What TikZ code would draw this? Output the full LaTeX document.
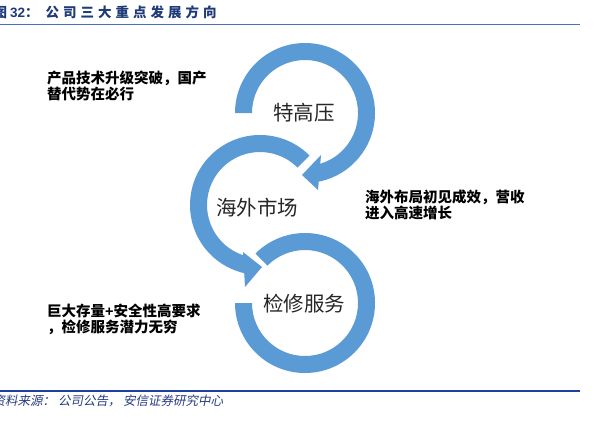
\documentclass[tikz,border=0pt]{standalone}
\usepackage{fontspec}
\setmainfont{Liberation Sans}
\newfontfamily\cjk{Noto Sans CJK SC}
\newfontfamily\cjkit{Noto Sans CJK SC}[FakeSlant=0.2]
\newfontfamily\latb{Liberation Sans}
\definecolor{ringblue}{RGB}{91,155,213}
\definecolor{titleblue}{RGB}{31,58,120}
\definecolor{toplineblue}{RGB}{72,112,190}
\definecolor{botlineblue}{RGB}{32,64,160}
\definecolor{srcblue}{RGB}{40,60,130}
\definecolor{labelgray}{RGB}{38,38,38}
\tikzset{
  ring/.style={fill=ringblue, draw=none},
  cirlabel/.style={inner sep=0pt, text=labelgray, font=\cjk\fontsize{20.5}{24}\selectfont},
  sidelabel/.style={inner sep=0pt, anchor=west, align=left, text=black, font=\cjk\bfseries\fontsize{14.5}{16}\selectfont},
}
\begin{document}
\begin{tikzpicture}[x=1pt,y=1pt]
\useasboundingbox (0,0) rectangle (601,-424);
\fill[white] (0,0) rectangle (601,-424);

% title
\node[anchor=west, inner sep=0pt, text=titleblue, font=\cjk\bfseries\fontsize{13.5}{15}\selectfont] (title) at (-6.5,-12.5)
  {图\hspace{3pt}{\latb\bfseries 32}：\hspace{7pt}公\hspace{4pt}司\hspace{4pt}三\hspace{4pt}大\hspace{4pt}重\hspace{4pt}点\hspace{4pt}发\hspace{4pt}展\hspace{4pt}方\hspace{4pt}向};
\draw[toplineblue, line width=1.5pt] (0,-24.7) -- (580,-24.7);

% circle centres
\coordinate (T) at (305,-113);
\coordinate (M) at (260,-205);
\coordinate (B) at (305,-303);

% top ring with arrow
\fill[ring] ([shift={(180:70)}]T) arc[start angle=180,end angle=-79,radius=70]
  -- ([shift={(-79:53)}]T) arc[start angle=-79,end angle=180,radius=53] -- cycle;
\fill[ring] (321,-155) -- (318,-190) -- (302,-175) -- cycle;

% middle ring with arrow
\fill[ring] ([shift={(45:70)}]M) arc[start angle=45,end angle=257.5,radius=70]
  -- ([shift={(257.5:53)}]M) arc[start angle=257.5,end angle=45,radius=53] -- cycle;
\fill[ring] (243,-252) -- (245,-287) -- (262,-267) -- cycle;

% bottom ring
\fill[ring] ([shift={(135:70)}]B) arc[start angle=135,end angle=-180,radius=70]
  -- ([shift={(180:53)}]B) arc[start angle=-180,end angle=135,radius=53] -- cycle;

% circle labels
\node[cirlabel] (l1) at (304,-113) {特高压};
\node[cirlabel] (l2) at (257,-208) {海外市场};
\node[cirlabel] (l3) at (304,-304) {检修服务};

% side labels
\node[sidelabel] (s1) at (47,-86) {产品技术升级突破，国产\\替代势在必行};
\node[sidelabel] (s2) at (365,-204.5) {海外布局初见成效，营收\\进入高速增长};
\node[sidelabel] (s3) at (47,-319) {巨大存量{\latb\bfseries +}安全性高要求\\，检修服务潜力无穷};

% source
\draw[botlineblue, line width=1.3pt] (0,-391) -- (580,-391);
\node[anchor=west, inner sep=0pt, text=srcblue, font=\cjkit\fontsize{12.5}{14}\selectfont] (src) at (-7.5,-401)
  {资料来源：\hspace{3pt}公司公告，\hspace{2.5pt}安信证券研究中心};
\end{tikzpicture}
\end{document}
